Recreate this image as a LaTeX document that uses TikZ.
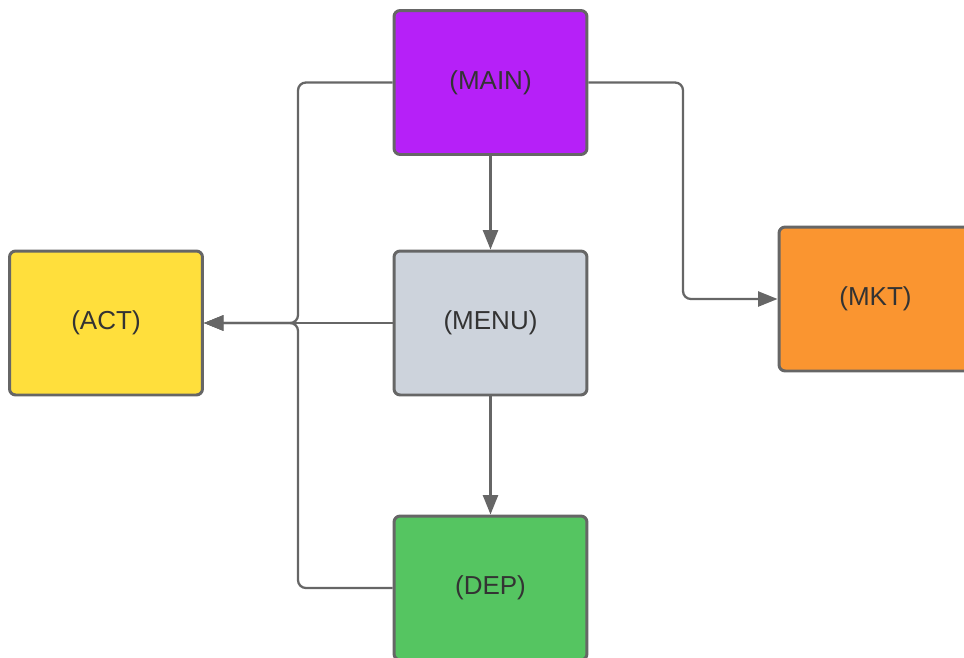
\documentclass[tikz,border=0pt]{standalone}
\usepackage{fontspec}
\setmainfont{Liberation Sans}
\usetikzlibrary{arrows.meta}

\definecolor{mainfill}{HTML}{B620F8}
\definecolor{menufill}{HTML}{CDD3DC}
\definecolor{actfill}{HTML}{FFDF3C}
\definecolor{mktfill}{HTML}{FA9530}
\definecolor{depfill}{HTML}{55C561}
\definecolor{edgegrey}{HTML}{666666}
\definecolor{textgrey}{HTML}{333333}

\tikzset{
  box/.style={draw=edgegrey, line width=1.7pt, rounded corners=3.5pt,
    minimum width=3.86cm, minimum height=2.88cm, inner sep=0pt,
    text=textgrey, font=\fontsize{14.8}{18}\selectfont},
  conn/.style={draw=edgegrey, line width=1.3pt, rounded corners=4.5pt,
    -{Triangle[length=11pt,width=8.5pt]}}
}

\begin{document}
\begin{tikzpicture}[x=0.02cm, y=-0.02cm]
	%%%%% FRAME %%%%%
	\clip (0,0) rectangle (964,657);
	
	%%%%% BOXES %%%%%
	\node[box, fill=mainfill] (main) at (490.5, 82.5) {(MAIN)};
	\node[box, fill=menufill] (menu) at (490.5, 323) {(MENU)};
	\node[box, fill=actfill] (act) at (106, 323) {(ACT)};
	\node[box, fill=mktfill] (mkt) at (875.5, 299) {(MKT)};
	\node[box, fill=depfill] (dep) at (490.5, 588) {(DEP)};
	
	\coordinate (jl) at (298, 323);
	\coordinate (jr) at (683, 299);
	
	%%%%% LINKS %%%%%
	\draw[conn] (main.south) -- (menu.north);
	\draw[conn] (menu.south) -- (dep.north);
	\draw[conn] (main.east) -| (jr) -- (mkt.west);
	\draw[conn] (main.west) -| (jl) -- (act.east);
	\draw[conn] (dep.west) -| (jl) -- (act.east);
	\draw[conn] (menu.west) -- (act.east);
	
\end{tikzpicture}
\end{document}
